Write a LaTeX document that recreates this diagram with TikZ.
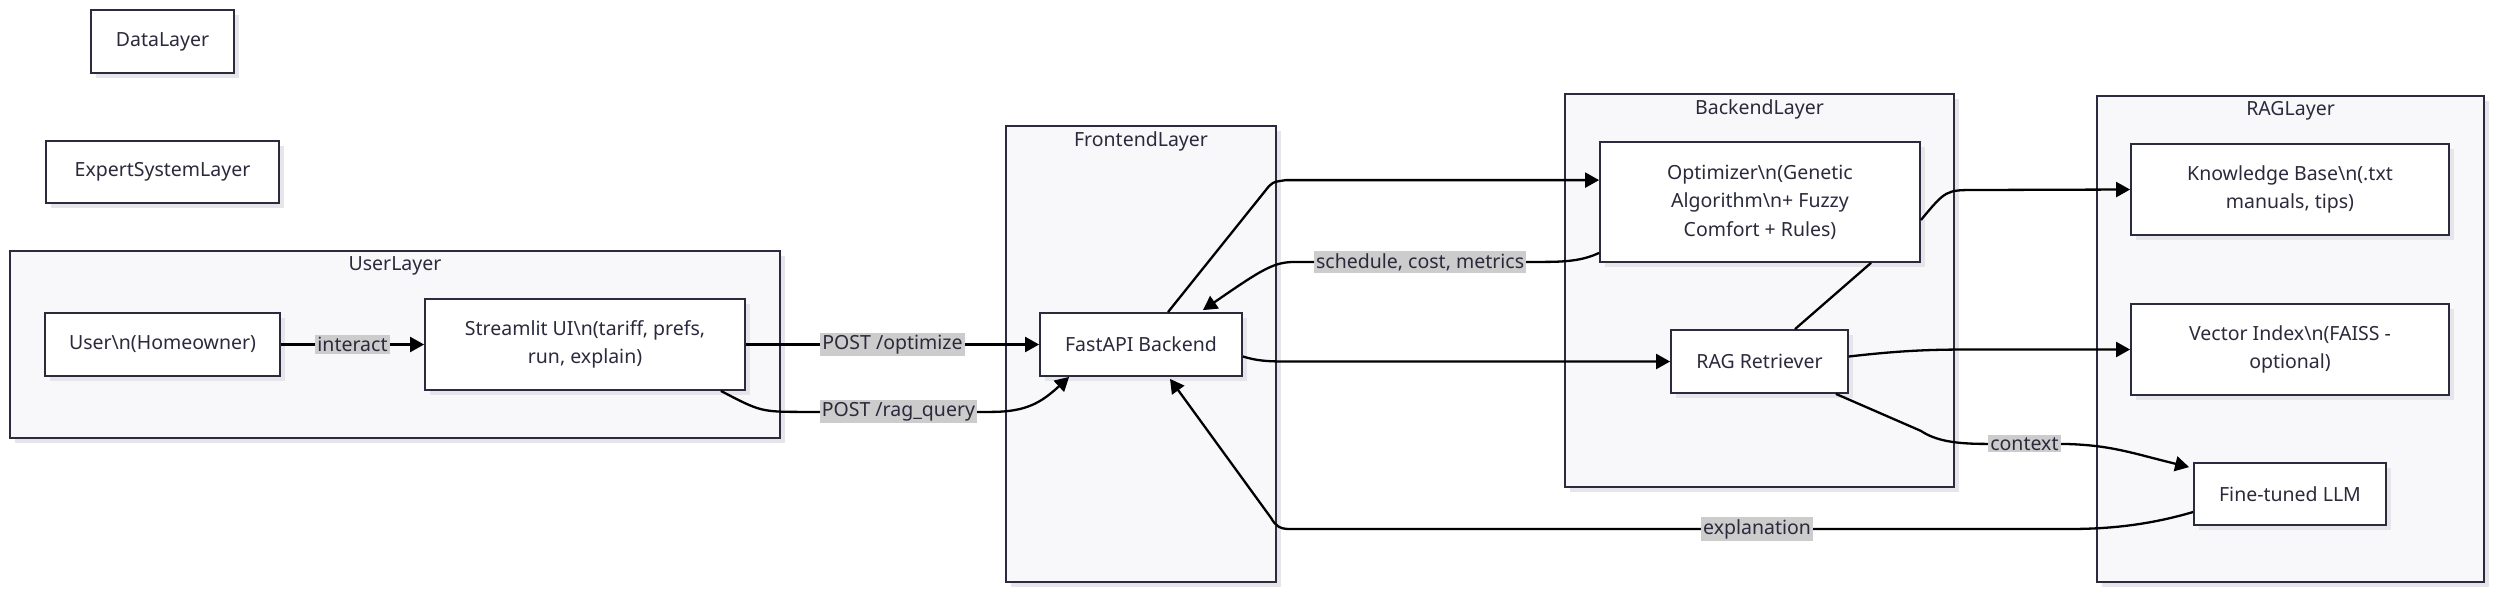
\documentclass[tikz,border=0pt]{standalone}
\usepackage{fontspec}
\setmainfont{Noto Sans}
\usetikzlibrary{arrows.meta,shadows,calc}
\definecolor{clfill}{HTML}{F8F8FB}
\definecolor{strokec}{HTML}{2B2B40}
\definecolor{textc}{HTML}{2A2A3C}
\definecolor{shadc}{HTML}{E6E6EA}
\definecolor{lblbg}{HTML}{CCCCCC}
\newcommand{\bsn}{\textbackslash n}
\tikzset{
  every node/.style={font=\fontsize{19.5}{28.5}\selectfont, text=textc},
  shad/.style={general shadow={fill=shadc, shadow xshift=5pt, shadow yshift=-5pt}},
  cluster/.style={draw=strokec, line width=1.6pt, fill=clfill, shad},
  boxnode/.style={draw=strokec, line width=1.8pt, fill=white, shad, inner sep=0pt, align=center},
  ctitle/.style={inner sep=0pt, anchor=center},
  edge/.style={draw=black, line width=2.3pt, -{Triangle[length=14pt,width=15pt]}},
  plain/.style={draw=black, line width=2.3pt},
  elabel/.style={fill=lblbg, inner sep=2pt, text=textc}
}
\begin{document}
\begin{tikzpicture}[x=1pt,y=-1pt]
\useasboundingbox (0,0) rectangle (2500,595);
% clusters
\path[cluster] (10,251) rectangle (780,438);
\node[ctitle] (tuser) at (395,266) {UserLayer};
\path[cluster] (1006,126) rectangle (1276,582);
\node[ctitle] (tfront) at (1141,141) {FrontendLayer};
\path[cluster] (1565,94) rectangle (1954,487);
\node[ctitle] (tback) at (1759.5,109) {BackendLayer};
\path[cluster] (2097,96) rectangle (2484,582);
\node[ctitle] (trag) at (2290.5,111) {RAGLayer};
% nodes
\node[boxnode, minimum width=143pt, minimum height=63pt] (data) at (162.5,41.5) {DataLayer};
\node[boxnode, minimum width=233pt, minimum height=62pt] (expert) at (162.5,172) {ExpertSystemLayer};
\node[boxnode, minimum width=235pt, minimum height=63pt] (user) at (162.5,344.5) {User\bsn(Homeowner)};
\node[boxnode, minimum width=320pt, minimum height=91pt] (stream) at (585,344.5) {Streamlit UI\bsn(tariff, prefs,\\run, explain)};
\node[boxnode, minimum width=202pt, minimum height=63pt] (fast) at (1141,344.5) {FastAPI Backend};
\node[boxnode, minimum width=320pt, minimum height=120pt] (opt) at (1760,202) {Optimizer\bsn(Genetic\\Algorithm\bsn+ Fuzzy\\Comfort + Rules)};
\node[boxnode, minimum width=177pt, minimum height=63pt] (ret) at (1759.5,361.5) {RAG Retriever};
\node[boxnode, minimum width=318pt, minimum height=91pt] (kb) at (2290,189.5) {Knowledge Base\bsn(.txt\\manuals, tips)};
\node[boxnode, minimum width=318pt, minimum height=91pt] (vec) at (2290,349.5) {Vector Index\bsn(FAISS -\\optional)};
\node[boxnode, minimum width=192pt, minimum height=62pt] (llm) at (2290,494) {Fine-tuned LLM};
% edges
\draw[edge] (user.east) -- node[elabel] {interact} (stream.west);
\draw[edge] (stream.east) -- node[elabel] {POST /optimize} (fast.west);
\draw[edge] ($(stream.south east)+(-25,0)$) .. controls ($(stream.south east)+(15,21)$) .. ($(stream.south east)+(60,21)$)
  -- node[elabel] {POST /rag\_query} ($(stream.south east)+(245,21)$)
  .. controls ($(stream.south east)+(280,21)$) and ($(stream.south east)+(295,12)$) .. ($(fast.south west)+(30,0)$);
\draw[edge] ($(fast.north)+(27,0)$) -- ($(fast.north)+(124,-121)$) .. controls ($(fast.north)+(131,-130)$) .. ($(fast.north)+(145,-132)$) -- (opt.west |- {$(fast.north)+(0,-132)$});
\draw[edge] ($(opt.south west)+(0,-10)$) .. controls ($(opt.south west)+(-15,-3)$) and ($(opt.south west)+(-30,-1)$) .. ($(opt.south west)+(-55,-1)$)
  -- node[elabel] {schedule, cost, metrics} ($(opt.south west)+(-303,-1)$)
  .. controls ($(opt.south west)+(-325,-1)$) and ($(opt.south west)+(-335,5)$) .. ($(fast.north)+(62,-2)$);
\draw[edge] ($(fast.east)+(0,12)$) .. controls ($(fast.east)+(13,16)$) and ($(fast.east)+(23,17)$) .. ($(fast.east)+(43,17)$) -- (ret.west);
\draw[plain] ($(opt.south)+(111,0)$) -- ($(ret.north)+(35.5,0)$);
\draw[edge] ($(opt.east)+(0,18)$) .. controls ($(opt.east)+(25,-12)$) .. ($(opt.east)+(55,-12)$) -- (kb.west);
\draw[edge] ($(ret.east)+(0,-5)$) .. controls ($(ret.east)+(52,-11)$) and ($(ret.east)+(82,-12)$) .. ($(ret.east)+(122,-12)$) -- (vec.west);
\draw[edge] ($(ret.south east)+(-13,0)$) -- ($(ret.south east)+(72,37)$) .. controls ($(ret.south east)+(87,47)$) and ($(ret.south east)+(107,50)$) .. ($(ret.south east)+(137,50)$)
  -- node[elabel] {context} ($(ret.south east)+(214,50)$)
  .. controls ($(ret.south east)+(262,51)$) and ($(ret.south east)+(282,59)$) .. ($(llm.north west)+(-4,5)$);
\draw[edge] ($(llm.west)+(0,18)$) .. controls ($(llm.west)+(-44,31)$) and ($(llm.west)+(-84,35)$) .. ($(llm.west)+(-124,35)$)
  -- node[elabel, pos=0.4] {explanation} ($(llm.west)+(-904,35)$)
  .. controls ($(llm.west)+(-914,35)$) and ($(llm.west)+(-918,31)$) .. ($(llm.west)+(-922,24)$)
  -- ($(fast.south)+(29,2)$);
\end{tikzpicture}
\end{document}
